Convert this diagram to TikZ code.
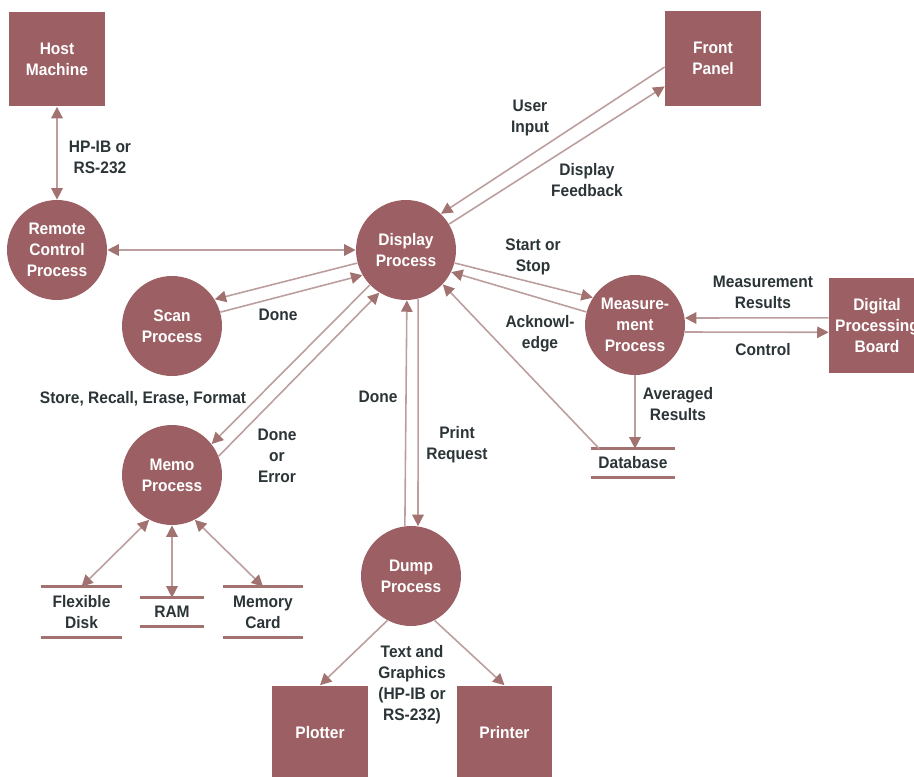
\documentclass[tikz,border=0pt]{standalone}
\usepackage{fontspec}
\setmainfont{Liberation Sans}[FakeStretch=0.93]
\usetikzlibrary{arrows.meta}
\definecolor{procfill}{HTML}{9C6064}
\definecolor{linecol}{HTML}{BC9E9E}
\definecolor{tipcol}{HTML}{A27270}
\definecolor{lblcol}{HTML}{2B3437}

\begin{document}
\begin{tikzpicture}[x=0.02cm,y=-0.02cm,
  font=\bfseries\fontsize{9.5}{12}\selectfont,
  >={Triangle[length=6.5pt,width=6.5pt,color=tipcol]},
  proc/.style={circle,fill=procfill,text=white,minimum size=2cm,inner sep=0pt,align=center},
  dev/.style={rectangle,fill=procfill,text=white,minimum width=1.92cm,minimum height=1.9cm,inner sep=0pt,align=center},
  storeline/.style={draw=tipcol,line width=1.6pt},
  store/.style={inner sep=0pt,align=center,text=lblcol,minimum height=0.56cm,
    append after command={(\tikzlastnode.north west) edge[storeline] (\tikzlastnode.north east)
      (\tikzlastnode.south west) edge[storeline] (\tikzlastnode.south east)}},
  lbl/.style={text=lblcol,align=center},
  flow/.style={draw,color=linecol,line width=0.9pt}]
\useasboundingbox (0,0) rectangle (914,777);
\clip (0,0) rectangle (914,777);

\node[dev] (host) at (57,59) {Host\\Machine};
\node[dev] (front) at (713,58.5) {Front\\Panel};
\node[dev] (dpb) at (877,325.5) {Digital\\Processing\\Board};
\node[dev] (plot) at (320,733) {Plotter};
\node[dev] (print) at (504.5,733) {Printer};

\node[proc] (remote) at (57,250) {Remote\\Control\\Process};
\node[proc] (disp) at (406,250) {Display\\Process};
\node[proc] (scan) at (172,326) {Scan\\Process};
\node[proc] (meas) at (635,325) {Measure-\\ment\\Process};
\node[proc] (memo) at (172,475) {Memo\\Process};
\node[proc] (dump) at (411,576) {Dump\\Process};

\node[store,minimum width=1.68cm] (db) at (633,463) {Database};
\node[store,minimum width=1.62cm,minimum height=1cm] (flex) at (81.5,612) {Flexible\\Disk};
\node[store,minimum width=1.28cm] (ram) at (172,612) {RAM};
\node[store,minimum width=1.6cm,minimum height=1cm] (card) at (263,612) {Memory\\Card};

\path[flow,<->] (host) -- (remote);
\path[flow,<->] (remote) -- (disp);
\path[flow,->] (front.190) -- (disp.46);
\path[flow,->] (disp.31) -- (front.210);
\path[flow,->] (disp.195) -- (scan.32);
\path[flow,->] (scan.16) -- (disp.210);
\path[flow,->] (disp.224) -- (memo.38);
\path[flow,->] (memo.22) -- (disp.238);
\path[flow,->] (dump.97) -- (disp.271);
\path[flow,->] (disp.284) -- (dump.82);
\path[flow,->] (disp.345) -- (meas.147);
\path[flow,->] (meas.165) -- (disp.334);
\path[flow,->] (db.157) -- (disp.317);
\path[flow,->] (meas.south) -- (meas.south |- db.north);
\path[flow,->] (dpb.171) -- (meas.8);
\path[flow,->] (meas.352) -- (dpb.188);
\path[flow,<->] (memo.243) -- (flex.north);
\path[flow,<->] (memo) -- (ram);
\path[flow,<->] (memo.297) -- (card.north);
\path[flow,->] (dump.242) -- (plot.north);
\path[flow,->] (dump.298) -- (print.north);

\node[lbl] (lhost) at (100,157) {HP-IB or\\RS-232};
\node[lbl] (luser) at (530,118) {User\\Input};
\node[lbl] (lfeed) at (587,180) {Display\\Feedback};
\node[lbl] (lstart) at (533,257) {Start or\\Stop};
\node[lbl] (lscan) at (278,315) {Done};
\node[lbl] (lack) at (540,334) {Acknowl-\\edge};
\node[lbl] (lmres) at (763,292) {Measurement\\Results};
\node[lbl] (lctrl) at (763,350) {Control};
\node[lbl] (lavg) at (678,404) {Averaged\\Results};
\node[lbl] (lstore) at (143,399) {Store, Recall, Erase, Format};
\node[lbl] (ldump) at (378,397) {Done};
\node[lbl] (lerr) at (277,456) {Done\\or\\Error};
\node[lbl] (lprint) at (457,445) {Print\\Request};
\node[lbl] (ltext) at (412,685) {Text and\\Graphics\\(HP-IB or\\RS-232)};
\end{tikzpicture}
\end{document}
